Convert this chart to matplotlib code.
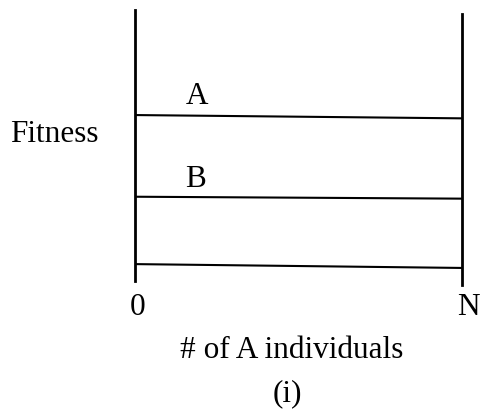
import matplotlib
matplotlib.use("Agg")
import matplotlib.pyplot as plt
from matplotlib.transforms import ScaledTranslation

# x positions: 0 and N (normalised population share of A)
x_ends = [0, 1]
tick_labels = ["0", "N"]
tick_shift_px = [3, 6]

# fitness at x=0 and x=N (arbitrary units, 0..10)
fitness_A = [6.18, 6.06]
fitness_B = [3.21, 3.14]
fitness_base = [0.76, 0.62]

line_names = ["A", "B"]
label_x = [0.19, 0.185]

plt.rcParams["font.family"] = ["Liberation Serif", "DejaVu Serif"]
FS = 22.5

fig = plt.figure(figsize=(4.82, 4.11), dpi=100)
W, H = 482, 411
left, right, top, bottom = 134.7, 462.3, 10, 285
ax = fig.add_axes([left / W, 1 - bottom / H, (right - left) / W, (bottom - top) / H])
ax.set_xlim(0, 1)
ax.set_ylim(0, 10)

for ys in (fitness_A, fitness_B, fitness_base):
    ax.plot(x_ends, ys, color="black", lw=1.5, solid_capstyle="butt")

for name, ys, lx, off in zip(line_names, (fitness_A, fitness_B), label_x, (0.42, 0.36)):
    ax.text(lx, ys[0] + off, name, ha="center", va="baseline", fontsize=FS)

for s in ("top", "bottom"):
    ax.spines[s].set_visible(False)
ax.spines["left"].set_linewidth(2.0)
ax.spines["right"].set_linewidth(2.0)
ax.spines["left"].set_bounds(0.15, 10)
ax.spines["right"].set_bounds(0, 9.85)

ax.set_yticks([])
ax.set_xticks(x_ends)
ax.set_xticklabels(tick_labels, fontsize=FS)
ax.tick_params(axis="x", length=0, pad=6)
for lab, dx in zip(ax.get_xticklabels(), tick_shift_px):
    lab.set_transform(lab.get_transform() + ScaledTranslation(dx / 100, 0, fig.dpi_scale_trans))

fig.text(54 / W, 1 - 135 / H, "Fitness", ha="center", va="center", fontsize=FS)
fig.text(292 / W, 1 - 350 / H, "# of A individuals", ha="center", va="center", fontsize=FS)
fig.text(287 / W, 1 - 394 / H, "(i)", ha="center", va="center", fontsize=FS)

fig.savefig("out.png", dpi=100)
